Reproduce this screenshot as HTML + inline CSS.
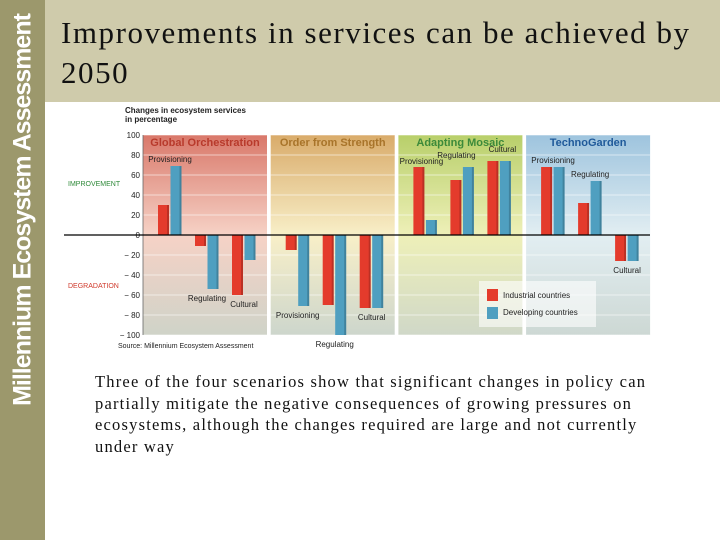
<!DOCTYPE html>
<html><head><meta charset="utf-8"><style>
body{margin:0;width:720px;height:540px;overflow:hidden;background:#fff;font-family:"Liberation Sans",sans-serif}
#side{position:absolute;left:0;top:0;width:45px;height:540px;background:#9c986c}
#sideText{position:absolute;left:23px;top:210px;transform:translate(-50%,-50%) rotate(-90deg);white-space:nowrap;color:#fff;font-weight:bold;font-size:25px;letter-spacing:-1px}
#band{position:absolute;left:45px;top:0;width:675px;height:102px;background:#cfcbab}
#title{position:absolute;left:61px;top:13px;font-family:"Liberation Serif",serif;font-size:31px;line-height:40px;letter-spacing:1.55px;color:#111;white-space:nowrap}
#body{position:absolute;left:95px;top:371px;width:600px;white-space:nowrap;font-family:"Liberation Serif",serif;font-size:16.5px;line-height:21.7px;letter-spacing:1.2px;color:#111}
svg{position:absolute;left:0;top:0}
</style></head><body>
<div id="side"><div id="sideText">Millennium Ecosystem Assessment</div></div>
<div id="band"></div>
<div id="title">Improvements in services can be achieved by<br>2050</div>
<svg id="chart" width="720" height="540">
<defs>
<linearGradient id="g0" x1="0" y1="0" x2="0" y2="1"><stop offset="0" stop-color="#d9786a"/><stop offset="0.5" stop-color="#f6d2c6"/><stop offset="1" stop-color="#cfd3c8"/></linearGradient>
<linearGradient id="g1" x1="0" y1="0" x2="0" y2="1"><stop offset="0" stop-color="#d9ab6a"/><stop offset="0.5" stop-color="#f8efc8"/><stop offset="1" stop-color="#cdd6cc"/></linearGradient>
<linearGradient id="g2" x1="0" y1="0" x2="0" y2="1"><stop offset="0" stop-color="#b8cf6a"/><stop offset="0.5" stop-color="#eef0b8"/><stop offset="1" stop-color="#d0d8c8"/></linearGradient>
<linearGradient id="g3" x1="0" y1="0" x2="0" y2="1"><stop offset="0" stop-color="#9ec4de"/><stop offset="0.5" stop-color="#e2eef2"/><stop offset="1" stop-color="#cdd8d4"/></linearGradient>
</defs>
<g id="plot"></g>
</svg>
<div id="body">Three of the four scenarios show that significant changes in policy can<br>partially mitigate the negative consequences of growing pressures on<br>ecosystems, although the changes required are large and not currently<br>under way</div>
<script>
const scenarios=["Global Orchestration","Order from Strength","Adapting Mosaic","TechnoGarden"];
const services=["Provisioning","Regulating","Cultural"];
const industrial=[[30,-11,-60],[-15,-70,-73],[68,55,74],[68,32,-26]];
const developing=[[69,-54,-25],[-71,-100,-73],[15,68,74],[68,54,-26]];
const yTicks=[100,80,60,40,20,0,-20,-40,-60,-80,-100];
const yTickLabels=["100","80","60","40","20","0","− 20","− 40","− 60","− 80","− 100"];
const ns="http://www.w3.org/2000/svg";
const g=document.getElementById('plot');
const y=v=>235-v*1.0;
const panelX=i=>143+i*127.7;
const panelW=124;
const titleColors=["#b83a2c","#a8742a","#3c8a3a","#1f5a9a"];
function mk(t,a,p){const e=document.createElementNS(ns,t);for(const k in a)e.setAttribute(k,a[k]);(p||g).appendChild(e);return e;}
scenarios.forEach((s,i)=>{
  const r=mk('rect',{x:panelX(i),y:y(100),width:panelW,height:y(-100)-y(100),fill:'url(#g'+i+')'});
  
  
  yTicks.forEach(v=>{if(v!==0){mk('line',{x1:panelX(i),x2:panelX(i)+panelW,y1:y(v),y2:y(v),stroke:'#fff','stroke-opacity':0.55,'stroke-width':1});}});
  const t=mk('text',{x:panelX(i)+panelW/2,y:y(100)+11,'text-anchor':'middle','font-size':11,'font-weight':'bold',fill:titleColors[i]});
  t.textContent=s;
  
  
});
yTicks.forEach((v,k)=>{
  const t=mk('text',{x:140,y:y(v)+3,'text-anchor':'end','font-size':8,fill:'#222'});
  t.textContent=yTickLabels[k];
  
  
});
mk('line',{x1:143,x2:143,y1:y(100),y2:y(-100),stroke:'#666','stroke-width':0.8});
const bw=11;
scenarios.forEach((s,i)=>{
  services.forEach((sv,j)=>{
    const gx=panelX(i)+15+j*37;
    [[industrial[i][j],'#e43b2c','bar-industrial'],[developing[i][j],'#4f9fc0','bar-developing']].forEach((d,k)=>{
      const v=d[0];const x=gx+k*12.5;
      const top=Math.min(y(v),y(0)),h=Math.abs(y(v)-y(0));
      const b=mk('rect',{x:x,y:top,width:bw,height:h,fill:d[1]});
      
      
      mk('rect',{x:x+bw-2,y:top,width:2,height:h,fill:'#000','fill-opacity':0.18});
    });
    const mx=Math.max(industrial[i][j],developing[i][j]),mn=Math.min(industrial[i][j],developing[i][j]);
    let ly=mx>0?y(mx)-4:y(mn)+12;
    let lx=gx+12;
    if(i===2){ly=y(mx)-(j===0?3:9); if(j===0)lx=gx+8; if(j===1)lx=gx+6; if(j===2)lx=gx+15;}
    const l=mk('text',{x:lx,y:ly,'text-anchor':'middle','font-size':8,fill:'#222'});
    l.textContent=sv;
    
    
  });
});
mk('line',{x1:64,x2:650,y1:y(0),y2:y(0),stroke:'#000','stroke-width':1.3});
function txt(x,yy,s,o,name){const t=mk('text',Object.assign({x:x,y:yy,'font-size':8,fill:'#222'},o||{}));t.textContent=s;return t;}
txt(125,113,"Changes in ecosystem services",{'font-weight':'bold'},'y-axis-title');
txt(125,122,"in percentage",{'font-weight':'bold'},'y-axis-title-2');
txt(68,186,"IMPROVEMENT",{'font-size':7,fill:'#2f8a3a'},'improvement-label');
txt(68,288,"DEGRADATION",{'font-size':7,fill:'#d03a2c'},'degradation-label');
txt(118,348,"Source: Millennium Ecosystem Assessment",{'font-size':7},'source-note');
const lg=mk('rect',{x:479,y:281,width:117,height:46,fill:'#fff','fill-opacity':0.6});


mk('rect',{x:487,y:289,width:11,height:12,fill:'#e43b2c'});
mk('rect',{x:487,y:307,width:11,height:12,fill:'#4f9fc0'});
txt(503,298,"Industrial countries",{},'legend-industrial');
txt(503,315,"Developing countries",{},'legend-developing');
</script>
</body></html>
